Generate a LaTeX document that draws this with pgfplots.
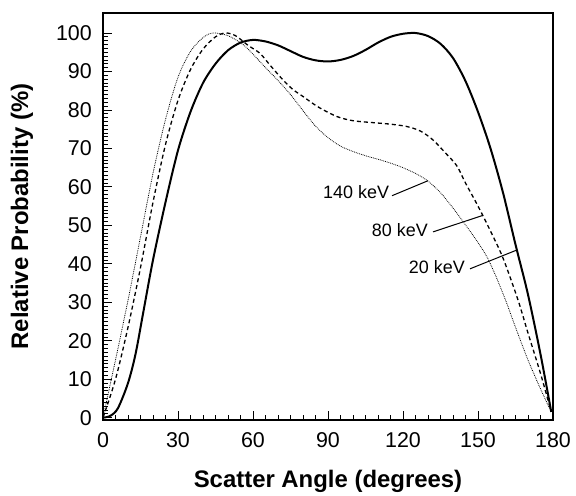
\documentclass[border=0pt]{standalone}
\usepackage{fontspec}
\setmainfont{Liberation Sans}
\usepackage{pgfplots}
\usepackage{pgfplotstable}
\pgfplotsset{compat=1.18}

% relative probability vs scatter angle
\pgfplotstableread{
x y
0 0
3 0.5
6 2.5
10 9
13 16.5
16 27
20 41
25 56
30 69.5
35 79.5
40 87
45 92
50 95.5
55 97.5
60 98.2
65 97.8
70 96.8
75 95.3
80 93.8
85 92.9
90 92.6
95 93.0
100 94.0
105 95.6
110 97.5
115 99.0
120 99.8
125 100
130 99.2
135 97.2
140 93.5
145 87.5
150 79.5
155 70
160 58.5
165 45
170 32
175 16.5
179.3 1.5
}\twentykev

\pgfplotstableread{
x y
0 0
5 10
10 23.5
15 39
20 56
25 71
30 82.5
35 90.5
40 95.8
45 99
49 100
53 99.3
58 96.8
62.8 94.7
67 91.5
72 87.8
76 85.3
80 83.5
86 80.8
93.5 78.3
100 77.2
108 76.7
115 76.3
121.5 75.7
127 74.5
132 72.2
137 68.8
141.5 65.5
145 61
150 55
155 48.5
160 41.5
166 30.6
170 22
175 11.5
179.3 1.5
}\eightykev

\pgfplotstableread{
x y
0 0
5 15
10 30.5
15 47
20 63.5
25 77.5
30 88.5
35 95.2
40 98.8
44 100
50 99.3
56 97
60 94.5
65 91
69.5 88
75 84
80 79.8
85 75.8
90 72.8
95 70.6
100 69.2
105.5 68
112 66.8
118.8 65.3
125 63.5
130 61.5
135 58.5
140 54.5
144 51
149.5 46
153.5 41.9
157 37
161 30.6
165 23.5
170 15
175 7.5
179.3 1.5
}\onefortykev

\begin{document}
\begin{tikzpicture}
\begin{axis}[
  scale only axis, width=450bp, height=407bp,
  xmin=0, xmax=180, ymin=-0.6, ymax=105.2,
  xtick={0,30,...,180}, ytick={0,10,...,100},
  minor x tick num=5, minor y tick num=9,
  tick align=inside, tick pos=left,
  major tick length=9bp, minor tick length=5bp,
  axis line style={line width=1.6bp},
  every tick/.style={black, line width=0.8bp},
  /pgf/number format/assume math mode=true,
  ticklabel style={font=\fontsize{21.5}{25}\selectfont},
  yticklabel style={inner sep=0pt, xshift=-11bp},
  xticklabel style={inner sep=0pt, yshift=-12bp},
  xlabel={Scatter Angle (degrees)},
  ylabel={Relative Probability (\%)},
  label style={font=\fontsize{24}{28}\selectfont\bfseries},
  xlabel style={at={(axis description cs:0.5,-0.152)}, anchor=center},
  ylabel style={at={(axis description cs:-0.18,0.5)}, anchor=center},
  clip=false,
]
\addplot[black, line width=2bp, smooth] table {\twentykev};
\addplot[black, line width=1.3bp, smooth, dash pattern=on 4bp off 3bp] table {\eightykev};
\addplot[black, line width=0.8bp, smooth, densely dotted] table {\onefortykev};

\node[anchor=east, inner sep=0pt, font=\fontsize{18}{21}\selectfont] at (axis cs:114.5,58.7) {140 keV};
\draw[black, line width=1bp] (axis cs:115.6,57.7) -- (axis cs:130,61.6);
\node[anchor=east, inner sep=0pt, font=\fontsize{18}{21}\selectfont] at (axis cs:130,48.8) {80 keV};
\draw[black, line width=1bp] (axis cs:132,48.3) -- (axis cs:152,52.6);
\node[anchor=east, inner sep=0pt, font=\fontsize{18}{21}\selectfont] at (axis cs:144.8,39.2) {20 keV};
\draw[black, line width=1bp] (axis cs:146.8,38.7) -- (axis cs:165.6,43.6);

\coordinate (sw) at (rel axis cs:0,0);
\coordinate (ne) at (rel axis cs:1,1);
\end{axis}
\pgfresetboundingbox
\path[use as bounding box] (sw) ++(-103bp,-76bp) coordinate (a) (ne) ++(23bp,13bp) coordinate (b) (a) rectangle (b);
\end{tikzpicture}
\end{document}
